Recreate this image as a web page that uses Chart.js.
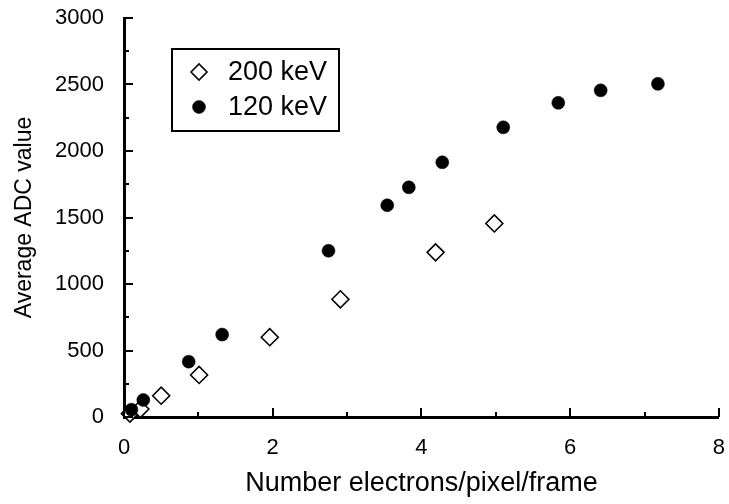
<!DOCTYPE html>
<html>
<head>
<meta charset="utf-8">
<script src="https://cdn.jsdelivr.net/npm/chart.js@4.4.0/dist/chart.umd.min.js"></script>
<style>
html,body{margin:0;padding:0;background:#fff;}
#wrap{width:729px;height:504px;position:relative;}
</style>
</head>
<body>
<div id="wrap"><canvas id="c" width="729" height="504"></canvas></div>
<script>
// ---- data ----
const xAxisTitle = 'Number electrons/pixel/frame';
const yAxisTitle = 'Average ADC value';
const seriesNames = ['200 keV', '120 keV'];
const x200 = [0.08, 0.22, 0.50, 1.01, 1.96, 2.91, 4.19, 4.98];
const y200 = [25, 60, 160, 316, 600, 885, 1238, 1455];
const x120 = [0.10, 0.26, 0.87, 1.32, 2.75, 3.54, 3.83, 4.28, 5.10, 5.84, 6.41, 7.18];
const y120 = [55, 128, 416, 620, 1250, 1592, 1727, 1915, 2178, 2362, 2456, 2505];
const xMajorTicks = [0, 2, 4, 6, 8];
const xMinorTicks = [1, 3, 5, 7];
const yMajorTicks = [0, 500, 1000, 1500, 2000, 2500, 3000];
const yMinorTicks = [250, 750, 1250, 1750, 2250, 2750];

const FONT = 'Liberation Sans, Arial, Helvetica, sans-serif';

const toPts = (xs, ys) => xs.map((x, i) => ({x: x, y: ys[i]}));

const noScalePadding = s => { s.paddingTop = 0; s.paddingBottom = 0; s.paddingLeft = 0; s.paddingRight = 0; };

const innerTicks = {
  id: 'innerTicks',
  afterDraw(chart) {
    const ctx = chart.ctx;
    const xs = chart.scales.x, ys = chart.scales.y;
    const ca = chart.chartArea;
    ctx.save();
    ctx.strokeStyle = '#000';
    ctx.lineWidth = 2;
    ctx.beginPath();
    const tx = (v, len) => { const p = Math.round(xs.getPixelForValue(v)); ctx.moveTo(p, ca.bottom); ctx.lineTo(p, ca.bottom - len); };
    const ty = (v, len) => { const p = Math.round(ys.getPixelForValue(v)); ctx.moveTo(ca.left, p); ctx.lineTo(ca.left + len, p); };
    xMajorTicks.forEach(v => tx(v, 9));
    xMinorTicks.forEach(v => tx(v, 5));
    yMajorTicks.forEach(v => ty(v, 9));
    yMinorTicks.forEach(v => ty(v, 5));
    ctx.stroke();
    ctx.restore();
  }
};

const boxLegend = {
  id: 'boxLegend',
  afterDraw(chart) {
    const ctx = chart.ctx;
    ctx.save();
    ctx.fillStyle = '#fff';
    ctx.fillRect(172, 49, 167, 82);
    ctx.strokeStyle = '#000';
    ctx.lineWidth = 2;
    ctx.strokeRect(172, 49, 167, 82);
    const rows = [72, 107];
    chart.data.datasets.forEach((ds, i) => {
      const st = {
        pointStyle: ds.pointStyle,
        radius: ds.legendRadius,
        borderWidth: ds.borderWidth,
        rotation: 0
      };
      ctx.fillStyle = ds.backgroundColor;
      ctx.strokeStyle = ds.borderColor;
      ctx.lineWidth = ds.borderWidth;
      Chart.helpers.drawPoint(ctx, st, 199, rows[i]);
      ctx.fillStyle = '#000';
      ctx.font = '27px ' + FONT;
      ctx.textAlign = 'left';
      ctx.textBaseline = 'middle';
      ctx.fillText(ds.label, 228, rows[i] + 1);
    });
    ctx.restore();
  }
};

new Chart(document.getElementById('c'), {
  type: 'scatter',
  data: {
    datasets: [
      {
        label: seriesNames[0],
        data: toPts(x200, y200),
        pointStyle: 'rectRot',
        pointRadius: 8.5,
        legendRadius: 8,
        backgroundColor: '#fff',
        borderColor: '#000',
        borderWidth: 1.6,
        order: 1,
        clip: false
      },
      {
        label: seriesNames[1],
        data: toPts(x120, y120),
        pointStyle: 'circle',
        pointRadius: 6.5,
        legendRadius: 6.5,
        backgroundColor: '#000',
        borderColor: '#000',
        borderWidth: 0.5,
        order: 0,
        clip: false
      }
    ]
  },
  options: {
    responsive: false,
    devicePixelRatio: 1,
    animation: false,
    layout: {padding: {top: 18, right: 9, bottom: 0, left: 0}},
    plugins: {legend: {display: false}, tooltip: {enabled: false}},
    scales: {
      x: {
        type: 'linear', min: 0, max: 8,
        afterBuildTicks: s => { s.ticks = xMajorTicks.map(v => ({value: v})); },
        afterFit: s => { s.height = 87; noScalePadding(s); },
        grid: {display: false},
        border: {display: true, color: '#000', width: 3},
        ticks: {color: '#000', font: {family: FONT, size: 22}, padding: 10, maxRotation: 0,
                callback: v => String(v)},
        title: {display: true, text: xAxisTitle, color: '#000', font: {family: FONT, size: 27}, padding: {top: 0, bottom: 4}}
      },
      y: {
        type: 'linear', min: 0, max: 3000,
        afterBuildTicks: s => { s.ticks = yMajorTicks.map(v => ({value: v})); },
        afterFit: s => { s.width = 124; noScalePadding(s); },
        grid: {display: false},
        border: {display: true, color: '#000', width: 3},
        ticks: {color: '#000', font: {family: FONT, size: 22}, padding: 12,
                callback: v => String(v)},
        title: {display: true, text: yAxisTitle, color: '#000', font: {family: FONT, size: 23}, padding: {top: 11, bottom: 0}}
      }
    }
  },
  plugins: [innerTicks, boxLegend]
});
</script>
</body>
</html>
